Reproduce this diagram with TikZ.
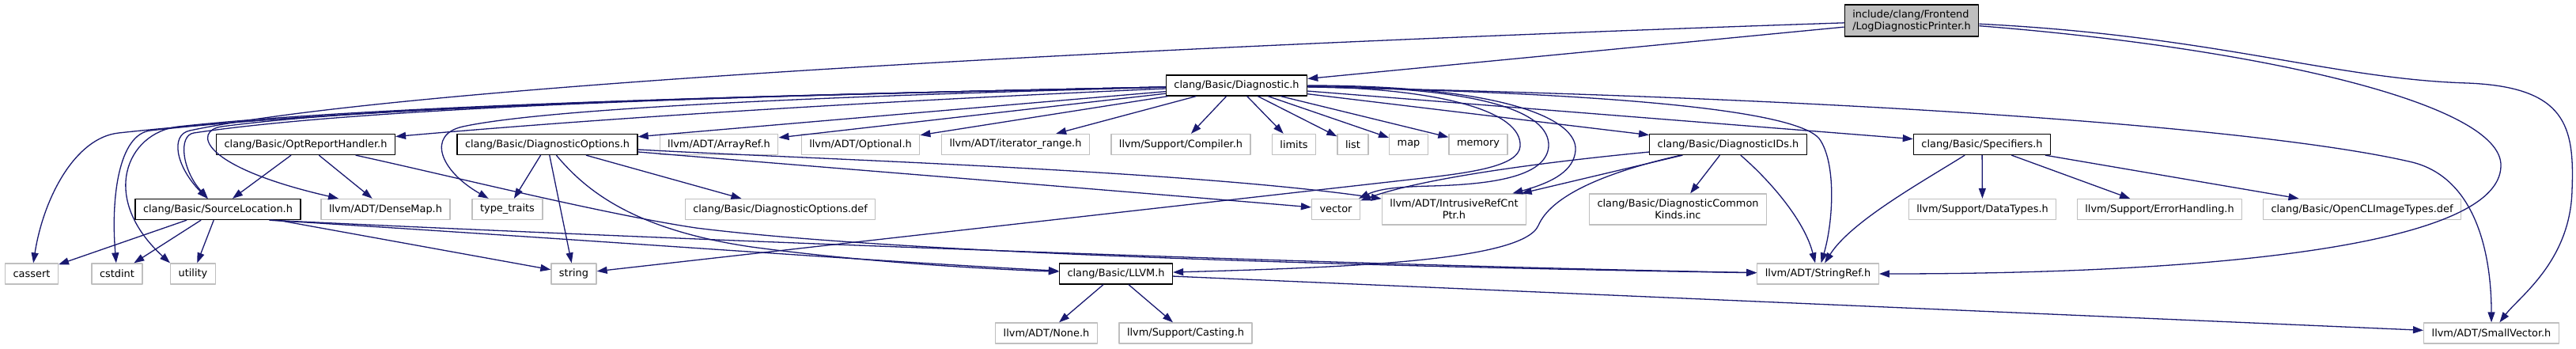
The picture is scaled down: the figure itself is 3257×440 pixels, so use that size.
\documentclass[tikz,border=0pt]{standalone}
\usepackage{fontspec}
\setmainfont{DejaVu Sans}
\usetikzlibrary{arrows.meta}
\definecolor{azulnoche}{RGB}{25,25,112}
\definecolor{grisclaro}{RGB}{191,191,191}
\begin{document}
\begin{tikzpicture}[x=1pt, y=-1pt, line join=round,
    caja/.style={draw=black, fill=white, line width=1.3pt, inner xsep=10pt, inner ysep=3pt,
      minimum height=26pt, align=center, font=\fontsize{12.9}{15}\selectfont},
    ext/.style={caja, draw=grisclaro},
    raiz/.style={caja, fill=grisclaro, align=left, minimum height=40pt},
    dep/.style={draw=azulnoche, line width=1.3pt, -{Triangle[length=13pt,width=9pt]}}]
  \useasboundingbox (0,0) rectangle (3257,440);
  % el fichero de arriba y Diagnostic.h
  \node[raiz] (ldp) at (2417,26) {include/clang/Frontend\\/LogDiagnosticPrinter.h};
  \node[caja] (diag) at (1563.5,108) {clang/Basic/Diagnostic.h};
  % segunda fila
  \node[caja] (orh) at (386.5,182.5) {clang/Basic/OptReportHandler.h};
  \node[caja] (dopt) at (692,182.5) {clang/Basic/DiagnosticOptions.h};
  \node[ext] (arrayref) at (909,182.5) {llvm/ADT/ArrayRef.h};
  \node[ext] (optional) at (1088,182.5) {llvm/ADT/Optional.h};
  \node[ext] (iterrange) at (1284,182.5) {llvm/ADT/iterator\_range.h};
  \node[ext] (compiler) at (1493,182.5) {llvm/Support/Compiler.h};
  \node[ext] (limits) at (1636,182.5) {limits};
  \node[ext] (list) at (1710.5,182.5) {list};
  \node[ext] (map) at (1781,182.5) {map};
  \node[ext] (memory) at (1869,182.5) {memory};
  \node[caja] (dids) at (2185,182.5) {clang/Basic/DiagnosticIDs.h};
  \node[caja] (spec) at (2506,182.5) {clang/Basic/Specifiers.h};
  % tercera fila
  \node[caja] (srcloc) at (275.5,264.5) {clang/Basic/SourceLocation.h};
  \node[ext] (densemap) at (487.5,264.5) {llvm/ADT/DenseMap.h};
  \node[ext] (typetraits) at (641.5,264.5) {type\_traits};
  \node[ext] (doptdef) at (986.5,264.5) {clang/Basic/DiagnosticOptions.def};
  \node[ext] (vector) at (1689,264.5) {vector};
  \node[ext, minimum height=39pt] (irc) at (1838.5,264.5) {llvm/ADT/IntrusiveRefCnt\\Ptr.h};
  \node[ext, minimum height=39pt] (dck) at (2121.5,264.5) {clang/Basic/DiagnosticCommon\\Kinds.inc};
  \node[ext] (datatypes) at (2506.5,264.5) {llvm/Support/DataTypes.h};
  \node[ext] (errhand) at (2730.5,264.5) {llvm/Support/ErrorHandling.h};
  \node[ext] (opencl) at (2986.5,264.5) {clang/Basic/OpenCLImageTypes.def};
  % cuarta y quinta fila
  \node[ext] (cassert) at (40,346) {cassert};
  \node[ext] (cstdint) at (148,346) {cstdint};
  \node[ext] (utility) at (244,346) {utility};
  \node[ext] (string) at (725.5,346) {string};
  \node[caja] (llvmh) at (1411,346) {clang/Basic/LLVM.h};
  \node[ext] (stringref) at (2298.5,346) {llvm/ADT/StringRef.h};
  \node[ext] (none) at (1323,421) {llvm/ADT/None.h};
  \node[ext] (casting) at (1499,421) {llvm/Support/Casting.h};
  \node[ext] (smallvec) at (3150,421) {llvm/ADT/SmallVector.h};
  % desde la raíz
  \draw[dep] (ldp) -- (diag);
  \draw[dep] (ldp) .. controls (1400,60) and (500,110) .. (240,165)
    .. controls (215,170) and (222,210) .. (srcloc);
  \draw[dep] (ldp) .. controls (2850,60) and (3165,130) .. (3162,210)
    .. controls (3160,310) and (2800,346) .. (stringref);
  \draw[dep] (ldp) .. controls (2800,45) and (2950,100) .. (3120,105)
    .. controls (3245,110) and (3255,160) .. (3252,240)
    .. controls (3250,330) and (3185,375) .. (smallvec);
  % Diagnostic.h, el haz hacia la izquierda
  \draw[dep] (diag) .. controls (1100,118) and (500,130) .. (150,168)
    .. controls (95,174) and (55,250) .. (cassert);
  \draw[dep] (diag) .. controls (1100,118) and (500,130) .. (190,165)
    .. controls (150,170) and (140,250) .. (cstdint);
  \draw[dep] (diag) .. controls (1100,118) and (500,130) .. (225,160)
    .. controls (160,168) and (125,250) .. (utility.north west);
  \draw[dep] (diag) .. controls (1100,118) and (500,130) .. (245,168)
    .. controls (225,171) and (230,215) .. (srcloc);
  \draw[dep] (diag) .. controls (1100,118) and (500,130) .. (280,160)
    .. controls (245,165) and (250,210) .. (densemap);
  \draw[dep] (diag) .. controls (1100,120) and (700,135) .. (585,160)
    .. controls (540,170) and (555,215) .. (typetraits);
  \draw[dep] (diag) .. controls (1000,133) and (700,155) .. (orh);
  % Diagnostic.h, las rectas
  \draw[dep] (diag) -- (dopt);
  \draw[dep] (diag) -- (arrayref);
  \draw[dep] (diag) -- (optional);
  \draw[dep] (diag) -- (iterrange);
  \draw[dep] (diag) -- (compiler);
  \draw[dep] (diag) -- (limits);
  \draw[dep] (diag) -- (list);
  \draw[dep] (diag) -- (map);
  \draw[dep] (diag) -- (memory);
  \draw[dep] (diag) -- (dids);
  \draw[dep] (diag) -- (spec);
  % Diagnostic.h, las curvas por la derecha
  \draw[dep] (diag) .. controls (1820,112) and (1925,140) .. (1922,185)
    .. controls (1920,210) and (1860,218) .. (1800,225) -- (string);
  \draw[dep] (diag) .. controls (1870,110) and (1960,140) .. (1958,185)
    .. controls (1955,225) and (1880,233) .. (1810,235)
    .. controls (1770,236) and (1745,238) .. (vector);
  \draw[dep] (diag) .. controls (1900,108) and (1995,150) .. (1992,190)
    .. controls (1990,215) and (1965,230) .. (irc);
  \draw[dep] (diag) .. controls (2050,118) and (2270,140) .. (2300,175)
    .. controls (2322,205) and (2318,280) .. (stringref);
  \draw[dep] (diag) .. controls (2400,125) and (2880,165) .. (3050,205)
    .. controls (3130,225) and (3150,320) .. (smallvec);
  % OptReportHandler.h
  \draw[dep] (orh) -- (srcloc);
  \draw[dep] (orh) -- (densemap);
  \draw[dep] (orh) .. controls (560,220) and (760,270) .. (880,288)
    .. controls (1150,322) and (1800,338) .. (stringref);
  % DiagnosticOptions.h
  \draw[dep] (dopt) -- (typetraits);
  \draw[dep] (dopt) -- (string);
  \draw[dep] (dopt) -- (doptdef);
  \draw[dep] (dopt) .. controls (740,240) and (800,290) .. (950,312)
    .. controls (1100,332) and (1250,340) .. (llvmh);
  \draw[dep] (dopt) .. controls (1000,200) and (1500,215) .. (irc);
  \draw[dep] (dopt) .. controls (1000,208) and (1400,240) .. (vector);
  % SourceLocation.h
  \draw[dep] (srcloc) -- (cassert);
  \draw[dep] (srcloc) -- (cstdint);
  \draw[dep] (srcloc) -- (utility);
  \draw[dep] (srcloc) -- (string);
  \draw[dep] ([xshift=-40pt]srcloc.south east) .. controls (700,300) and (1100,330) .. (llvmh);
  \draw[dep] ([xshift=-40pt]srcloc.south east) .. controls (900,305) and (1700,335) .. (stringref);
  % DiagnosticIDs.h
  \draw[dep] (dids) .. controls (1950,205) and (1800,225) .. (vector);
  \draw[dep] (dids) -- (irc);
  \draw[dep] (dids) -- (dck);
  \draw[dep] (dids) .. controls (2240,230) and (2282,280) .. (stringref);
  \draw[dep] (dids) .. controls (2020,220) and (1960,250) .. (1945,285)
    .. controls (1925,330) and (1700,338) .. (llvmh);
  % Specifiers.h
  \draw[dep] (spec) .. controls (2430,230) and (2340,280) .. (stringref);
  \draw[dep] (spec) -- (datatypes);
  \draw[dep] (spec) -- (errhand);
  \draw[dep] (spec) -- (opencl);
  % LLVM.h
  \draw[dep] (llvmh) -- (none);
  \draw[dep] (llvmh) -- (casting);
  \draw[dep] (llvmh) -- (smallvec);
\end{tikzpicture}
\end{document}
